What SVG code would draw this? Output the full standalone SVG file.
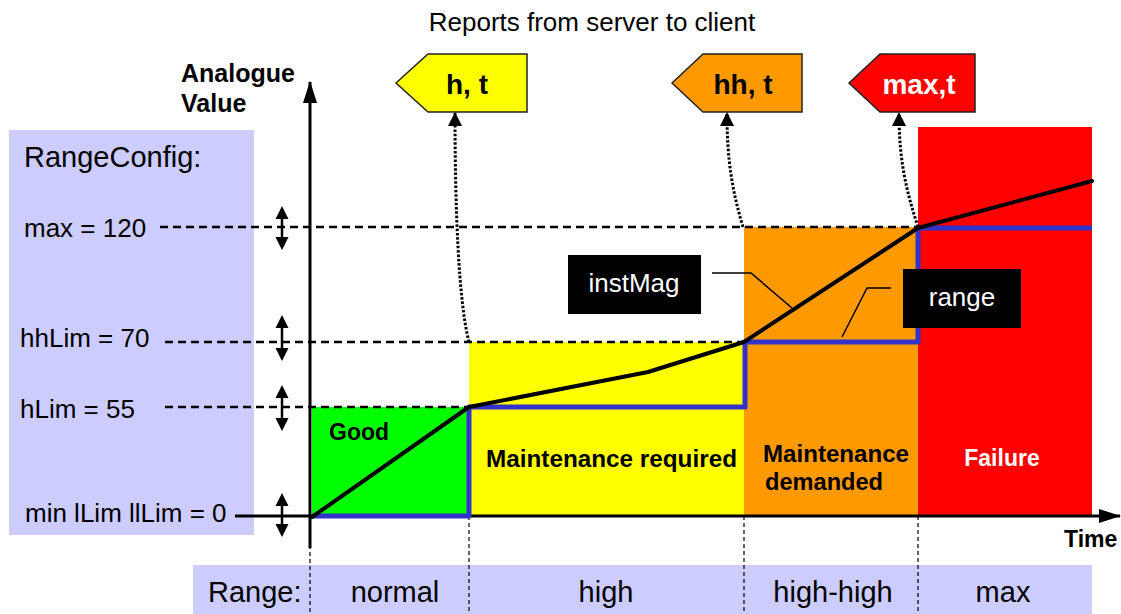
<svg xmlns="http://www.w3.org/2000/svg" width="1121" height="614" viewBox="0 0 1121 614">
<style>
text{font-family:"Liberation Sans",Arial,sans-serif;fill:#000}
.b{font-weight:bold}
.w{fill:#fff}
.dash{stroke:#000;stroke-width:2.5;stroke-dasharray:8 5;fill:none}
.vd{stroke:#000;stroke-width:1.2;stroke-dasharray:4 3;fill:none}
.dot{stroke:#000;stroke-width:3;stroke-dasharray:2.5 1.8;fill:none}
.lead{stroke:#000;stroke-width:1.5;fill:none}
.call{stroke:#222;stroke-width:1.5}
</style>
<defs>
<marker id="big" markerUnits="userSpaceOnUse" markerWidth="22" markerHeight="14" refX="21" refY="7" orient="auto"><path d="M0,0 L22,7 L0,14 Z" fill="#000"/></marker>
<marker id="sm" markerUnits="userSpaceOnUse" markerWidth="14" markerHeight="14" refX="13" refY="7" orient="auto"><path d="M0,0 L14,7 L0,14 Z" fill="#000"/></marker>
</defs>
<rect width="1121" height="614" fill="#fff"/>
<g id="config-panel">
<rect x="9" y="130" width="245" height="405" fill="#ccccff"/>
<text x="24" y="167" font-size="29">RangeConfig:</text>
<text x="24" y="237" font-size="26">max = 120</text>
<text x="20" y="347" font-size="26">hhLim = 70</text>
<text x="20" y="418" font-size="26">hLim = 55</text>
<text x="25" y="522" font-size="26">min lLim llLim = 0</text>
</g>
<g id="range-bar">
<rect x="193" y="565" width="899" height="49" fill="#ccccff"/>
<text x="208" y="602" font-size="29">Range:</text>
<text x="395" y="602" font-size="29" text-anchor="middle">normal</text>
<text x="606" y="602" font-size="29" text-anchor="middle">high</text>
<text x="833" y="602" font-size="29" text-anchor="middle">high-high</text>
<text x="1003" y="602" font-size="29" text-anchor="middle">max</text>
</g>
<g id="zone-good"><rect x="312" y="407" width="157" height="109" fill="#00ff00"/><text class="b" x="329" y="440" font-size="23">Good</text></g>
<g id="zone-high"><rect x="469" y="342" width="275" height="174" fill="#ffff00"/><text class="b" x="486" y="467" font-size="23" textLength="251" lengthAdjust="spacingAndGlyphs">Maintenance required</text></g>
<g id="zone-highhigh"><rect x="744" y="227" width="174" height="289" fill="#ff9900"/><text class="b" x="763" y="462" font-size="23" textLength="146" lengthAdjust="spacingAndGlyphs">Maintenance</text><text class="b" x="765" y="490" font-size="23" textLength="118" lengthAdjust="spacingAndGlyphs">demanded</text></g>
<g id="zone-max"><rect x="918" y="127" width="174" height="389" fill="#ff0000"/><text class="b w" x="1002" y="466" font-size="23" text-anchor="middle">Failure</text></g>
<g id="title"><text x="592" y="31" font-size="26" text-anchor="middle">Reports from server to client</text></g>
<g id="axis-labels">
<text class="b" x="181" y="82" font-size="25">Analogue</text>
<text class="b" x="181" y="112" font-size="25">Value</text>
<text class="b" x="1064" y="547" font-size="23">Time</text>
</g>
<g id="callout-h"><path class="call" d="M396,83 L428,54 L527,54 L527,112 L428,112 Z" fill="#ffff00"/><text class="b" x="467" y="94" font-size="28" text-anchor="middle">h, t</text></g>
<g id="callout-hh"><path class="call" d="M672,83 L703,54 L802,54 L802,112 L703,112 Z" fill="#ff9900"/><text class="b" x="743" y="94" font-size="28" text-anchor="middle">hh, t</text></g>
<g id="callout-max"><path class="call" d="M849,83 L880,54 L975,54 L975,112 L880,112 Z" fill="#ff0000"/><text class="b w" x="919" y="94" font-size="28" text-anchor="middle">max,t</text></g>
<g id="connectors">
<path class="vd" d="M310,545 V614 M469,516 V614 M744,516 V614 M918,516 V614"/>
<path class="dash" d="M160,227 H918 M165,342 H744 M165,407 H469"/>
<path d="M235,516 H1120" stroke="#000" stroke-width="3" fill="none" marker-end="url(#big)"/>
<path d="M310,548 V82" stroke="#000" stroke-width="3" fill="none" marker-end="url(#big)"/>
<path d="M282,214 V242 M282,323 V353 M282,393 V423 M282,501 V529" stroke="#000" stroke-width="2.5" fill="none"/>
<path d="M282,206 l-6.5,13 h13 Z M282,250 l-6.5,-13 h13 Z M282,315 l-6.5,13 h13 Z M282,361 l-6.5,-13 h13 Z M282,385 l-6.5,13 h13 Z M282,431 l-6.5,-13 h13 Z M282,493 l-6.5,13 h13 Z M282,537 l-6.5,-13 h13 Z" fill="#000"/>
<polyline points="312,516 469,516 469,407 745,407 745,342 918,342 918,228 1092,228" fill="none" stroke="#3333cc" stroke-width="5" stroke-linejoin="round"/>
<polyline points="312,517 469,407 648,372 744,342 918,228 1092,181" fill="none" stroke="#000" stroke-width="4" stroke-linejoin="round" stroke-linecap="round"/>
<path class="dot" d="M469,342 C458,300 455,200 455,113" marker-end="url(#sm)"/>
<path class="dot" d="M743,227 C732,190 727,160 727,113" marker-end="url(#sm)"/>
<path class="dot" d="M918,227 C906,190 899,160 899,113" marker-end="url(#sm)"/>
<path class="lead" d="M712,273 H751 L792,308"/>
<path class="lead" d="M891,288 H867 L842,337"/>
</g>
<g id="label-instMag"><rect x="568" y="255" width="133" height="59" fill="#000"/><text class="w" x="634" y="292" font-size="26" text-anchor="middle">instMag</text></g>
<g id="label-range"><rect x="903" y="269" width="118" height="59" fill="#000"/><text class="w" x="962" y="306" font-size="26" text-anchor="middle">range</text></g>
</svg>
